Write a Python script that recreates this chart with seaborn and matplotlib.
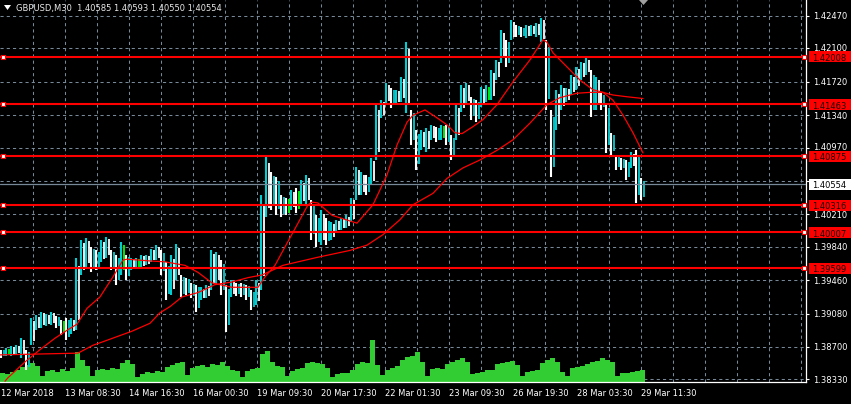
import numpy as np
import pandas as pd
import matplotlib
matplotlib.use("Agg")
import matplotlib.pyplot as plt
import matplotlib.transforms as mtransforms
from matplotlib.patches import Rectangle, Polygon
import seaborn as sns

# ---------------- data ----------------
symbol = "GBPUSD,M30"
header_prices = ["1.40585", "1.40593", "1.40550", "1.40554"]

# high / low of each group of 5 consecutive M30 bars (oldest -> newest)
bar_high = [
    1.3867, 1.3869, 1.3871, 1.3872, 1.3880, 1.3867, 1.3903, 1.3906, 1.3910, 1.3908,
    1.3910, 1.3905, 1.3901, 1.3903, 1.3903, 1.3971, 1.3992, 1.3994, 1.3984, 1.3980,
    1.3992, 1.3995, 1.3980, 1.3975, 1.3990, 1.3975, 1.3971, 1.3971, 1.3975, 1.3975,
    1.3982, 1.3986, 1.3980, 1.3967, 1.3975, 1.3987, 1.3952, 1.3949, 1.3943, 1.3941,
    1.3938, 1.3941, 1.3980, 1.3978, 1.3969, 1.3941, 1.3946, 1.3943, 1.3943, 1.3941,
    1.3935, 1.3946, 1.4043, 1.4086, 1.4069, 1.4064, 1.4043, 1.4040, 1.4049, 1.4051,
    1.4060, 1.4066, 1.4037, 1.4020, 1.4026, 1.4017, 1.4012, 1.4015, 1.4017, 1.4020,
    1.4040, 1.4075, 1.4069, 1.4066, 1.4085, 1.4146, 1.4151, 1.4171, 1.4165, 1.4163,
    1.4178, 1.4217, 1.4140, 1.4117, 1.4117, 1.4119, 1.4123, 1.4121, 1.4123, 1.4123,
    1.4111, 1.4146, 1.4168, 1.4171, 1.4155, 1.4151, 1.4166, 1.4168, 1.4185, 1.4197,
    1.4231, 1.4220, 1.4242, 1.4237, 1.4234, 1.4237, 1.4237, 1.4239, 1.4245, 1.4220,
    1.4140, 1.4163, 1.4168, 1.4165, 1.4180, 1.4189, 1.4195, 1.4199, 1.4185, 1.4178,
    1.4159, 1.4148, 1.4114, 1.4089, 1.4085, 1.4083, 1.4092, 1.4094, 1.4062]
bar_low = [
    1.3858, 1.3860, 1.3860, 1.3862, 1.3858, 1.3844, 1.3872, 1.3889, 1.3892, 1.3894,
    1.3895, 1.3892, 1.3884, 1.3878, 1.3885, 1.3889, 1.3952, 1.3960, 1.3955, 1.3958,
    1.3967, 1.3971, 1.3958, 1.3941, 1.3952, 1.3946, 1.3958, 1.3960, 1.3960, 1.3963,
    1.3967, 1.3969, 1.3952, 1.3924, 1.3929, 1.3946, 1.3927, 1.3929, 1.3926, 1.3910,
    1.3924, 1.3926, 1.3935, 1.3941, 1.3929, 1.3887, 1.3927, 1.3928, 1.3927, 1.3924,
    1.3912, 1.3918, 1.3935, 1.4018, 1.4026, 1.4020, 1.4018, 1.4020, 1.4026, 1.4023,
    1.4032, 1.4032, 1.3992, 1.3984, 1.3986, 1.3986, 1.3992, 1.4001, 1.4003, 1.4006,
    1.4012, 1.4037, 1.4043, 1.4043, 1.4055, 1.4083, 1.4131, 1.4146, 1.4142, 1.4146,
    1.4149, 1.4136, 1.4100, 1.4072, 1.4094, 1.4092, 1.4106, 1.4103, 1.4106, 1.4100,
    1.4083, 1.4106, 1.4138, 1.4146, 1.4129, 1.4126, 1.4143, 1.4149, 1.4151, 1.4174,
    1.4193, 1.4189, 1.4220, 1.4223, 1.4223, 1.4222, 1.4224, 1.4223, 1.4217, 1.4140,
    1.4064, 1.4117, 1.4140, 1.4149, 1.4157, 1.4163, 1.4174, 1.4180, 1.4132, 1.4140,
    1.4140, 1.4091, 1.4089, 1.4072, 1.4072, 1.4060, 1.4074, 1.4034, 1.4037]
doji_groups = [1, 12, 24, 27, 57, 59, 88, 97]

tick_volume = [
    360, 320, 400, 480, 600, 680, 760, 640, 240, 440,
    480, 400, 520, 440, 560, 1200, 880, 640, 240, 480,
    520, 480, 560, 520, 760, 880, 720, 200, 320, 400,
    360, 440, 400, 600, 680, 760, 800, 280, 560, 640,
    680, 600, 720, 680, 800, 640, 480, 440, 200, 440,
    520, 560, 1120, 1240, 800, 640, 600, 240, 440, 520,
    560, 760, 800, 760, 720, 560, 200, 320, 360, 360,
    480, 720, 800, 760, 1680, 680, 280, 480, 560, 640,
    880, 1000, 1040, 1200, 800, 240, 520, 560, 520, 720,
    800, 880, 960, 800, 320, 360, 400, 480, 480, 720,
    760, 800, 840, 680, 240, 400, 440, 480, 760, 880,
    960, 800, 400, 240, 560, 600, 640, 720, 800, 840,
    960, 880, 800, 240, 360, 360, 400, 440, 480]

fast_ma_bar = [5, 8, 25, 40, 55, 67, 77, 87, 100, 113, 123, 127, 150, 165, 185, 198,
               212, 232, 258, 265, 275, 285, 298, 308, 312, 318, 332, 357, 373, 387,
               397, 407, 413, 425, 437, 447, 455, 462, 473, 483, 497, 513, 530, 543,
               547, 553, 567, 580, 593, 603, 613, 623, 633, 643]
fast_ma = [1.3831, 1.3835, 1.3853, 1.3867, 1.3880, 1.3889, 1.3896, 1.3914, 1.3927,
           1.3950, 1.3969, 1.3970, 1.3968, 1.3967, 1.3963, 1.3955, 1.3943, 1.3938,
           1.3938, 1.3950, 1.3963, 1.3984, 1.4011, 1.4032, 1.4035, 1.4034, 1.4020,
           1.4011, 1.4032, 1.4066, 1.4100, 1.4126, 1.4134, 1.4140, 1.4131, 1.4123,
           1.4114, 1.4113, 1.4121, 1.4129, 1.4146, 1.4172, 1.4197, 1.4220, 1.4217,
           1.4205, 1.4189, 1.4174, 1.4163, 1.4160, 1.4151, 1.4134, 1.4114, 1.4091]
slow_ma_bar = [0, 78, 93, 103, 132, 150, 160, 170, 182, 198, 215, 232, 248, 262, 283,
               317, 350, 367, 383, 400, 413, 433, 447, 463, 480, 497, 513, 530, 547,
               560, 577, 590, 603, 613, 627, 643]
slow_ma = [1.3861, 1.3863, 1.3872, 1.3876, 1.3888, 1.3897, 1.3909, 1.3916, 1.3927,
           1.3932, 1.3941, 1.3944, 1.3949, 1.3952, 1.3963, 1.3972, 1.3980, 1.3986,
           1.3998, 1.4015, 1.4032, 1.4045, 1.4062, 1.4074, 1.4083, 1.4094, 1.4106,
           1.4125, 1.4146, 1.4154, 1.4159, 1.4160, 1.4160, 1.4157, 1.4155, 1.4153]

level_prices = [1.42008, 1.41463, 1.40875, 1.40316, 1.40007, 1.39599]
last_price = 1.40554
price_ticks = [1.42470, 1.42100, 1.41720, 1.41340, 1.40970, 1.40590,
               1.40210, 1.39840, 1.39460, 1.39080, 1.38700, 1.38330]
date_labels = ["12 Mar 2018", "13 Mar 08:30", "14 Mar 16:30", "16 Mar 00:30",
               "19 Mar 09:30", "20 Mar 17:30", "22 Mar 01:30", "23 Mar 09:30",
               "26 Mar 19:30", "28 Mar 03:30", "29 Mar 11:30"]

# ---------------- style / layout ----------------
W, H = 851, 404
PLOT_W, PLOT_H = 806, 381.5
GROUP = 5                      # bars per drawn group
BARS_PER_LABEL = 64
PRICE_MIN, PRICE_MAX = 1.38307, 1.42652
VOL_MAX = 15260
BG = "black"
GRID = "#778899"
CYAN = "#00CED1"
VOLC = "#32CD32"
FS = 6

sns.set_theme(style="dark")
plt.rcParams["font.family"] = ["DejaVu Sans"]
plt.rcParams["axes.facecolor"] = BG
plt.rcParams["figure.facecolor"] = BG

fig = plt.figure(figsize=(W / 100, H / 100), dpi=100)
rect = [0, 1 - PLOT_H / H, PLOT_W / W, PLOT_H / H]
vax = fig.add_axes(rect)
ax = fig.add_axes(rect)
vax.set_zorder(1)
ax.set_zorder(2)
ax.patch.set_visible(False)
vax.set_facecolor(BG)

ax.set_xlim(0, PLOT_W)
vax.set_xlim(0, PLOT_W)
ax.set_ylim(PRICE_MIN, PRICE_MAX)
vax.set_ylim(0, VOL_MAX)
px_per_price = PLOT_H / (PRICE_MAX - PRICE_MIN)

# grid (drawn in the lower axes so the volume covers it)
blend = mtransforms.blended_transform_factory(vax.transAxes, ax.transData)
for p in price_ticks:
    vax.plot([0, 1], [p, p], transform=blend, color=GRID, lw=0.75,
             ls=(0, (3, 3)), zorder=0)
for gx in range(33, PLOT_W, 32):
    vax.axvline(gx, color=GRID, lw=0.75, ls=(0, (3, 3)), zorder=0)

# volume
n = len(bar_high)
bar_x = np.arange(n) * GROUP + GROUP / 2
vax.bar(bar_x, tick_volume, width=GROUP, color=VOLC, linewidth=0, zorder=2)
vax.set_xticks([])
vax.set_yticks([])
for s in vax.spines.values():
    s.set_visible(False)

# price bars: each group drawn as two thin strokes (up / down colours)
hi = np.array(bar_high)
lo = np.array(bar_low)
mid = (hi + lo) / 2
first, second = [], []
for i in range(n):
    up = i > 0 and mid[i] >= mid[i - 1]
    c1, c2 = (CYAN, "white") if up else ("white", CYAN)
    if i in doji_groups:
        c2 = "#00FF00"
    first.append(c1)
    second.append(c2)
ax.vlines(bar_x - 1.3, lo, hi, colors=first, linewidth=1.5, zorder=3)
ax.vlines(bar_x + 1.0, lo + (hi - lo) * 0.15, hi - (hi - lo) * 0.1,
          colors=second, linewidth=1.3, zorder=3)

# moving averages
sns.lineplot(x=fast_ma_bar, y=fast_ma, ax=ax, color="red", linewidth=0.9,
             estimator=None, sort=False, legend=False, zorder=4)
sns.lineplot(x=slow_ma_bar, y=slow_ma, ax=ax, color="red", linewidth=0.9,
             estimator=None, sort=False, legend=False, zorder=4)

# last price line
ax.axhline(last_price, color=GRID, lw=0.9, zorder=3.5)

# horizontal levels
for p in level_prices:
    ax.axhline(p, color="red", lw=1.5, zorder=5)
    ax.plot([3, PLOT_W - 2], [p, p], ls="none", marker="s", ms=3.4,
            mfc="white", mec="red", mew=0.8, zorder=6, clip_on=False)

# axes / ticks
ax.set_xlabel("")
ax.set_ylabel("")
for side in ["top", "left"]:
    ax.spines[side].set_visible(False)
for side in ["right", "bottom"]:
    ax.spines[side].set_visible(True)
    ax.spines[side].set_color("white")
    ax.spines[side].set_linewidth(0.9)
ax.yaxis.tick_right()
ax.set_yticks(price_ticks)
ax.set_yticklabels(["" if abs(t - last_price) < 0.0008 else f"{t:.5f}"
                    for t in price_ticks])
date_ticks = [1 + BARS_PER_LABEL * i for i in range(len(date_labels))]
ax.set_xticks(date_ticks)
ax.set_xticklabels(date_labels, ha="left")
ax.tick_params(axis="both", colors="white", labelcolor="white", labelsize=FS,
               length=2.5, width=0.8, direction="out")
ax.tick_params(axis="y", pad=2.5)
ax.tick_params(axis="x", pad=3)
ax.grid(False)

# nudge a tick label that would collide with a level label box
for t, lab in zip(price_ticks, ax.get_yticklabels()):
    for p in level_prices:
        gap = (t - p) * px_per_price
        if 0 < gap < 10:
            shift = (10 - gap) / 2
            lab.set_transform(lab.get_transform() +
                              mtransforms.ScaledTranslation(0, shift / 100, fig.dpi_scale_trans))

# right-side price labels
ytr = ax.get_yaxis_transform()
box_h = 11 / px_per_price
bx0 = 809 / PLOT_W
bw = (W - 809) / PLOT_W
for p in level_prices:
    ax.add_patch(Rectangle((bx0, p - box_h / 2), bw, box_h, transform=ytr,
                           facecolor="red", edgecolor="none", clip_on=False, zorder=10))
    txt_tr = mtransforms.offset_copy(ytr, fig=fig, y=-0.8, units="dots")
    ax.text(812 / PLOT_W, p, f"{p:.5f}", transform=txt_tr, ha="left",
            va="center_baseline", fontsize=FS, color="#1a0000", clip_on=False, zorder=11)
ax.add_patch(Rectangle((bx0, last_price - box_h / 2), bw, box_h, transform=ytr,
                       facecolor="white", edgecolor="none", clip_on=False, zorder=10))
ax.text(812 / PLOT_W, last_price, f"{last_price:.5f}", transform=ytr, ha="left",
        va="center_baseline", fontsize=FS, color="black", clip_on=False, zorder=11)

# header
fig.text(16 / W, 1 - 8 / H, f"{symbol}  " + " ".join(header_prices),
         color="#e8e8e8", fontsize=FS, ha="left", va="center")
fig.patches.append(Polygon([(4 / W, 1 - 5 / H), (11 / W, 1 - 5 / H), (7.5 / W, 1 - 10 / H)],
                           closed=True, transform=fig.transFigure, facecolor="white",
                           edgecolor="none"))
fig.patches.append(Polygon([(639 / W, 1.0), (648 / W, 1.0), (643.5 / W, 1 - 5 / H)],
                           closed=True, transform=fig.transFigure, facecolor="#a0a0a0",
                           edgecolor="none"))

fig.savefig("out.png", dpi=100, facecolor=BG)
